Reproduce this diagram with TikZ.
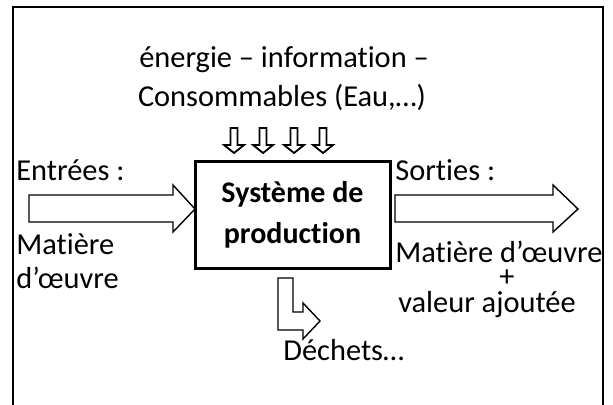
\documentclass[tikz,border=0pt]{standalone}
\usepackage{fontspec}
\setmainfont{Carlito}[Ligatures=NoCommon]
\tikzset{every node/.style={inner sep=0pt,font=\fontsize{15.2}{19}\selectfont},
 sysbox/.style={draw,line width=1.5pt,minimum width=97.5pt,minimum height=53pt,
   align=center,font=\fontsize{15}{20.5}\selectfont\bfseries},
 blockarrow/.style={draw,line width=0.7pt,fill=white,line join=miter},
 smallarrow/.style={draw,line width=0.9pt,line join=miter},
 lbl/.style={anchor=base west},
 }

\begin{document}
\begin{tikzpicture}[x=0.5pt,y=-0.5pt]
        \useasboundingbox (0,0) rectangle (613,405);
        % cadre
        \draw[line width=0.75pt] (13,405) -- (13,7) -- (603,7) -- (603,405);
        \node[sysbox] (sys) at (292.5,215) {Système de\\production};
        \node[anchor=base] (energie) at (284,68) {énergie – information –};
        \node[anchor=base] (conso) at (282,107) {Consommables (Eau,…)};
        \foreach \x in {234,263,294,323}
            \draw[smallarrow] (\x-3.5,128) -- (\x+3.5,128) -- (\x+3.5,145)
              -- (\x+10,145) -- (\x,153) -- (\x-10,145) -- (\x-3.5,145) -- cycle;
        % entrees
        \node[lbl] (entrees) at (16,181) {Entrées :};
        \coordinate (in) at (195,209);
        \draw[blockarrow] (29,195) -- (173,195) -- (173,185) -- (in)
            -- (173,232) -- (173,222) -- (29,222) -- cycle;
        \node[lbl] (matiere) at (16,254) {Matière};
        \node[lbl] (oeuvre) at (16,288) {d’œuvre};
        % sorties
        \node[lbl] (sorties) at (395,181) {Sorties :};
        \coordinate (out) at (578,209);
        \draw[blockarrow] (395,195) -- (553,195) -- (553,185) -- (out)
            -- (553,232) -- (553,222) -- (395,222) -- cycle;
        \node[lbl] (matout) at (395,262) {Matière d’œuvre};
        \node[anchor=base] (plus) at (507,286) {+};
        \node[anchor=base] (valeur) at (487,312) {valeur ajoutée};
        % dechets
        \coordinate (dech) at (320,321);
        \draw[blockarrow] (278,278) -- (293,278) -- (293,312) -- (303,312)
            -- (303,303) -- (dech) -- (303,339) -- (303,330) -- (278,330) -- cycle;
        \node[lbl] (dechets) at (283,360) {Déchets…};
    \end{tikzpicture}
\end{document}
